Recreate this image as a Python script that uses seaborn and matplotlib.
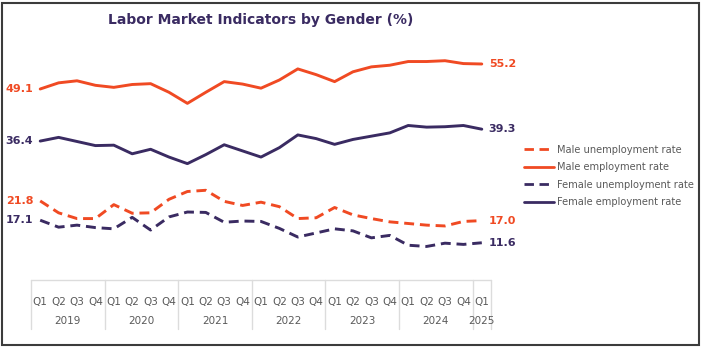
import matplotlib
matplotlib.use("Agg")
import matplotlib.pyplot as plt
import matplotlib.transforms as mtransforms
from matplotlib.patches import Rectangle
from matplotlib.lines import Line2D
import seaborn as sns
import pandas as pd

# Quarterly labour market indicators, Q1 2019 - Q1 2025 (%)
quarters = ["Q1", "Q2", "Q3", "Q4"] * 6 + ["Q1"]
years = ["2019", "2020", "2021", "2022", "2023", "2024", "2025"]

male_unemployment = [21.8, 18.9, 17.5, 17.5, 20.9, 18.8, 18.9, 22.2, 24.1, 24.4,
                     21.7, 20.7, 21.5, 20.4, 17.5, 17.7, 20.2, 18.4, 17.5, 16.7,
                     16.3, 15.9, 15.7, 16.8, 17.0]
male_employment = [49.1, 50.6, 51.1, 50.0, 49.5, 50.2, 50.4, 48.3, 45.6, 48.3,
                   50.9, 50.3, 49.3, 51.3, 54.0, 52.6, 50.9, 53.3, 54.5, 54.9,
                   55.8, 55.8, 56.0, 55.3, 55.2]
female_unemployment = [17.1, 15.4, 15.9, 15.3, 15.0, 17.8, 14.7, 17.9, 19.1, 19.0,
                       16.6, 16.9, 16.8, 15.1, 13.0, 14.0, 15.0, 14.5, 12.8, 13.4,
                       11.0, 10.7, 11.5, 11.2, 11.6]
female_employment = [36.4, 37.3, 36.3, 35.3, 35.4, 33.3, 34.4, 32.5, 30.9, 33.1,
                     35.5, 34.0, 32.5, 34.8, 37.9, 37.0, 35.6, 36.8, 37.6, 38.4,
                     40.2, 39.8, 39.9, 40.2, 39.3]

ORANGE = "#f04a23"
PURPLE = "#3a2b62"
GREY_TEXT = "#5a5a5a"
DASH = (0, (3.4, 2.0))

series = [
    ("Male unemployment rate", male_unemployment, ORANGE, DASH),
    ("Male employment rate", male_employment, ORANGE, "-"),
    ("Female unemployment rate", female_unemployment, PURPLE, DASH),
    ("Female employment rate", female_employment, PURPLE, "-"),
]

idx = list(range(len(quarters)))
frames = []
for name, vals, _, _ in series:
    frames.append(pd.DataFrame({"t": idx, "value": vals, "series": name}))
df = pd.concat(frames, ignore_index=True)

sns.set_theme(style="white")
plt.rcParams["font.family"] = ["DejaVu Sans"]

fig = plt.figure(figsize=(7.02, 3.48), dpi=100)
W, H = 702, 348
ax = fig.add_axes([31 / W, 1 - 285 / H, 460 / W, 245 / H])

for name, vals, color, ls in series:
    sub = df[df["series"] == name]
    sns.lineplot(data=sub, x="t", y="value", ax=ax, color=color, linewidth=2.1,
                 linestyle=ls, legend=False)
    ax.lines[-1].set_solid_joinstyle("round")
    ax.lines[-1].set_dash_capstyle("butt")
    # start / end value labels
    ax.annotate(f"{vals[0]:.1f}", (0, vals[0]), xytext=(-5, 0), textcoords="offset points",
                ha="right", va="center", color=color, fontsize=8, fontweight="bold")
    ax.annotate(f"{vals[-1]:.1f}", (idx[-1], vals[-1]), xytext=(5, 0), textcoords="offset points",
                ha="left", va="center", color=color, fontsize=8, fontweight="bold")

ax.set_xlim(-0.5, len(idx) - 0.5)
ax.set_ylim(1.3, 61.05)
ax.set_xlabel("")
ax.set_ylabel("")
ax.set_yticks([])
ax.set_xticks([])
for s in ax.spines.values():
    s.set_visible(False)

# Two-level category axis: quarters above, years below, boxed by light rules
trans = mtransforms.blended_transform_factory(ax.transData, ax.transAxes)
for i, q in zip(idx, quarters):
    ax.text(i, -0.07, q, transform=trans, ha="center", va="center",
            fontsize=7.5, color=GREY_TEXT)
year_starts = list(range(0, len(idx), 4))
for k, y in enumerate(years):
    a = year_starts[k]
    b = min(a + 3, idx[-1])
    ax.text((a + b) / 2, -0.147, y, transform=trans, ha="center", va="center",
            fontsize=7.5, color=GREY_TEXT)
rule = "#dcdcdc"
bounds = [s - 0.5 for s in year_starts] + [idx[-1] + 0.5]
for bx in bounds:
    ax.add_line(Line2D([bx, bx], [0.02, -0.18], transform=trans, color=rule,
                       linewidth=1.0, clip_on=False))
ax.add_line(Line2D([-0.5, idx[-1] + 0.5], [0.02, 0.02], transform=trans, color=rule,
                   linewidth=1.0, clip_on=False))

# Legend
handles = [Line2D([0], [0], color=c, linestyle=ls, linewidth=2.0) for _, _, c, ls in series]
labels = [n for n, _, _, _ in series]
leg = fig.legend(handles, labels, loc="upper left", bbox_to_anchor=(520 / W, 1 - 141 / H),
                 frameon=False, fontsize=7.1, handlelength=3.0, handletextpad=0.4,
                 labelspacing=0.75, borderaxespad=0)
for t in leg.get_texts():
    t.set_color(GREY_TEXT)

fig.text(261 / W, 1 - 20 / H, "Labor Market Indicators by Gender (%)", ha="center",
         va="center", fontsize=10, fontweight="bold", color=PURPLE)

# Outer frame
fig.patches.append(Rectangle((2 / W, 3 / H), 697 / W, 342 / H, transform=fig.transFigure,
                             fill=False, edgecolor="#3c3c3c", linewidth=1.5))

fig.savefig("out.png", dpi=100, facecolor="white")
